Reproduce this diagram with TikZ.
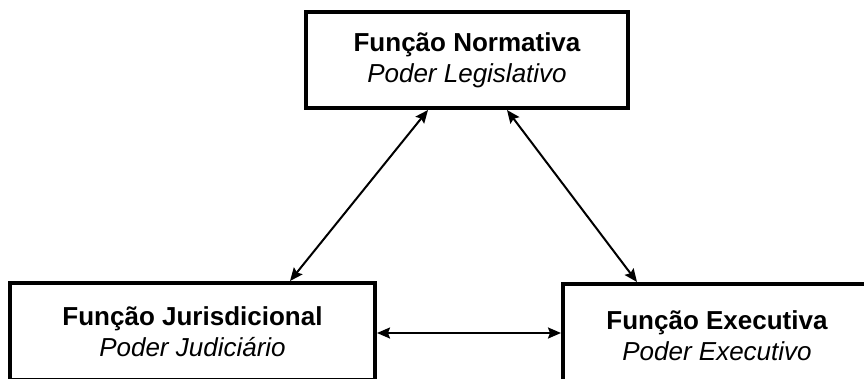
\documentclass[tikz,border=0pt]{standalone}
\usepackage{fontspec}
\setmainfont{Liberation Sans}
\usetikzlibrary{arrows.meta}
\begin{document}
\begin{tikzpicture}[x=1pt,y=1pt,
  box/.style={draw, line width=4pt, fill=white, inner sep=0pt, align=center,
    font=\fontsize{26}{31}\selectfont},
  tipx/.tip={Stealth[length=13pt,width=11pt,inset=2pt]},
  link/.style={line width=2pt, tipx-tipx}]
\useasboundingbox (0,0) rectangle (864,378);
\clip (0,0) rectangle (864,378);
\node[box, minimum width=322pt, minimum height=96pt] (top) at (467,318)
  {\bfseries Função Normativa\\\itshape Poder Legislativo};
\node[box, minimum width=365pt, minimum height=96.5pt] (left) at (192.5,46.75)
  {\bfseries Função Jurisdicional\\\itshape Poder Judiciário};
\node[box, minimum width=308pt, minimum height=104pt] (right) at (717,42)
  {\bfseries Função Executiva\\\itshape Poder Executivo};
\coordinate (hy) at (0,45);
\draw[link] ([xshift=-39pt]top.south) -- ([xshift=97.5pt]left.north);
\draw[link] ([xshift=40pt]top.south) -- ([xshift=-80pt]right.north);
\draw[link] (left.east |- hy) -- (right.west |- hy);
\end{tikzpicture}
\end{document}
